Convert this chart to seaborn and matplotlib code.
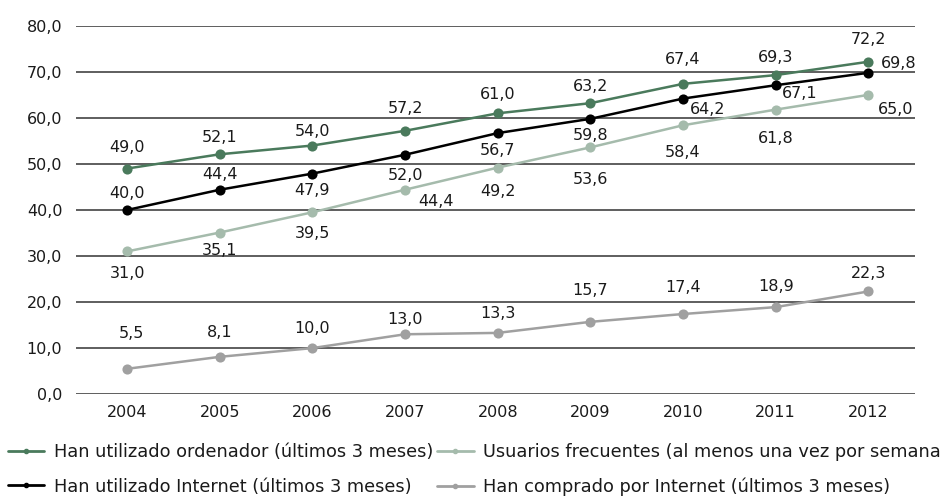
import matplotlib
matplotlib.use("Agg")
import matplotlib.pyplot as plt
import pandas as pd
import seaborn as sns

YEARS = [2004, 2005, 2006, 2007, 2008, 2009, 2010, 2011, 2012]
SERIES_NAMES = [
    "Han utilizado ordenador (últimos 3 meses)",
    "Han utilizado Internet (últimos 3 meses)",
    "Usuarios frecuentes (al menos una vez por semana)",
    "Han comprado por Internet (últimos 3 meses)",
]
ORDENADOR = [49.0, 52.1, 54.0, 57.2, 61.0, 63.2, 67.4, 69.3, 72.2]
INTERNET = [40.0, 44.4, 47.9, 52.0, 56.7, 59.8, 64.2, 67.1, 69.8]
FRECUENTES = [31.0, 35.1, 39.5, 44.4, 49.2, 53.6, 58.4, 61.8, 65.0]
COMPRADO = [5.5, 8.1, 10.0, 13.0, 13.3, 15.7, 17.4, 18.9, 22.3]
Y_TICKS = [0, 10, 20, 30, 40, 50, 60, 70, 80]

COLORS = ["#4a7a5c", "#000000", "#a5bbac", "#a0a0a0"]

# value label offsets from each point, in pixels (dx, dy)
LABEL_OFFSETS = [
    [(0, 22), (0, 18), (0, 15), (0, 23), (0, 20), (0, 18), (0, 25), (0, 19), (0, 23)],
    [(0, 17), (0, 16), (0, -16), (0, -20), (0, -16), (0, -16), (25, -10), (24, -7), (30, 10)],
    [(0, -21), (0, -17), (0, -20), (31, -11), (0, -23), (0, -31), (0, -26), (0, -28), (27, -14)],
    [(4, 36), (0, 25), (0, 21), (0, 16), (0, 20), (0, 32), (0, 28), (0, 22), (0, 19)],
]


def fmt(v):
    return f"{v:.1f}".replace(".", ",")


def main():
    sns.set_theme(style="white")
    plt.rcParams["font.family"] = ["DejaVu Sans"]

    values = [ORDENADOR, INTERNET, FRECUENTES, COMPRADO]
    df = pd.concat(
        [pd.DataFrame({"year": YEARS, "value": v, "serie": n}) for n, v in zip(SERIES_NAMES, values)],
        ignore_index=True,
    )

    fig = plt.figure(figsize=(9.4, 4.97), dpi=100)
    ax = fig.add_axes([0.081, 0.207, 0.892, 0.741])

    for y in Y_TICKS:
        ax.axhline(y, color="#333333", linewidth=1.1, zorder=1)

    sns.lineplot(
        data=df, x="year", y="value", hue="serie", hue_order=SERIES_NAMES,
        palette=COLORS, marker="o", markersize=7.3, markeredgewidth=0,
        linewidth=1.8, ax=ax, legend=False, zorder=3,
    )

    for vals, offs in zip(values, LABEL_OFFSETS):
        for x, v, (dx, dy) in zip(YEARS, vals, offs):
            ax.annotate(fmt(v), (x, v), xytext=(dx, dy - 1), textcoords="offset pixels",
                        ha="center", va="center", fontsize=11.5, color="#1a1a1a")

    ax.set_xlim(2003.45, 2012.5)
    ax.set_ylim(0, 80)
    ax.set_xticks(YEARS)
    ax.set_yticks(Y_TICKS)
    ax.set_yticklabels([fmt(t) for t in Y_TICKS])
    ax.tick_params(axis="both", length=0, labelsize=11.5, colors="#1a1a1a")
    ax.tick_params(axis="y", pad=10)
    ax.tick_params(axis="x", pad=8)
    ax.set_xlabel("")
    ax.set_ylabel("")
    for s in ax.spines.values():
        s.set_visible(False)

    handles = [
        plt.Line2D([], [], color=c, marker="o", markersize=3, linewidth=2)
        for c in COLORS
    ]
    # the right-hand legend entry runs off the figure edge, as in the source
    fig.legend(
        handles, SERIES_NAMES, ncol=2, loc="upper left", bbox_to_anchor=(0.0085, 0.108),
        frameon=False, fontsize=12.8, handlelength=2.05, handletextpad=0.55,
        columnspacing=0.2, labelspacing=0.92, borderaxespad=0, borderpad=0,
        labelcolor="#1a1a1a",
    )

    fig.savefig("out.png", dpi=100)
    plt.close(fig)


if __name__ == "__main__":
    main()
